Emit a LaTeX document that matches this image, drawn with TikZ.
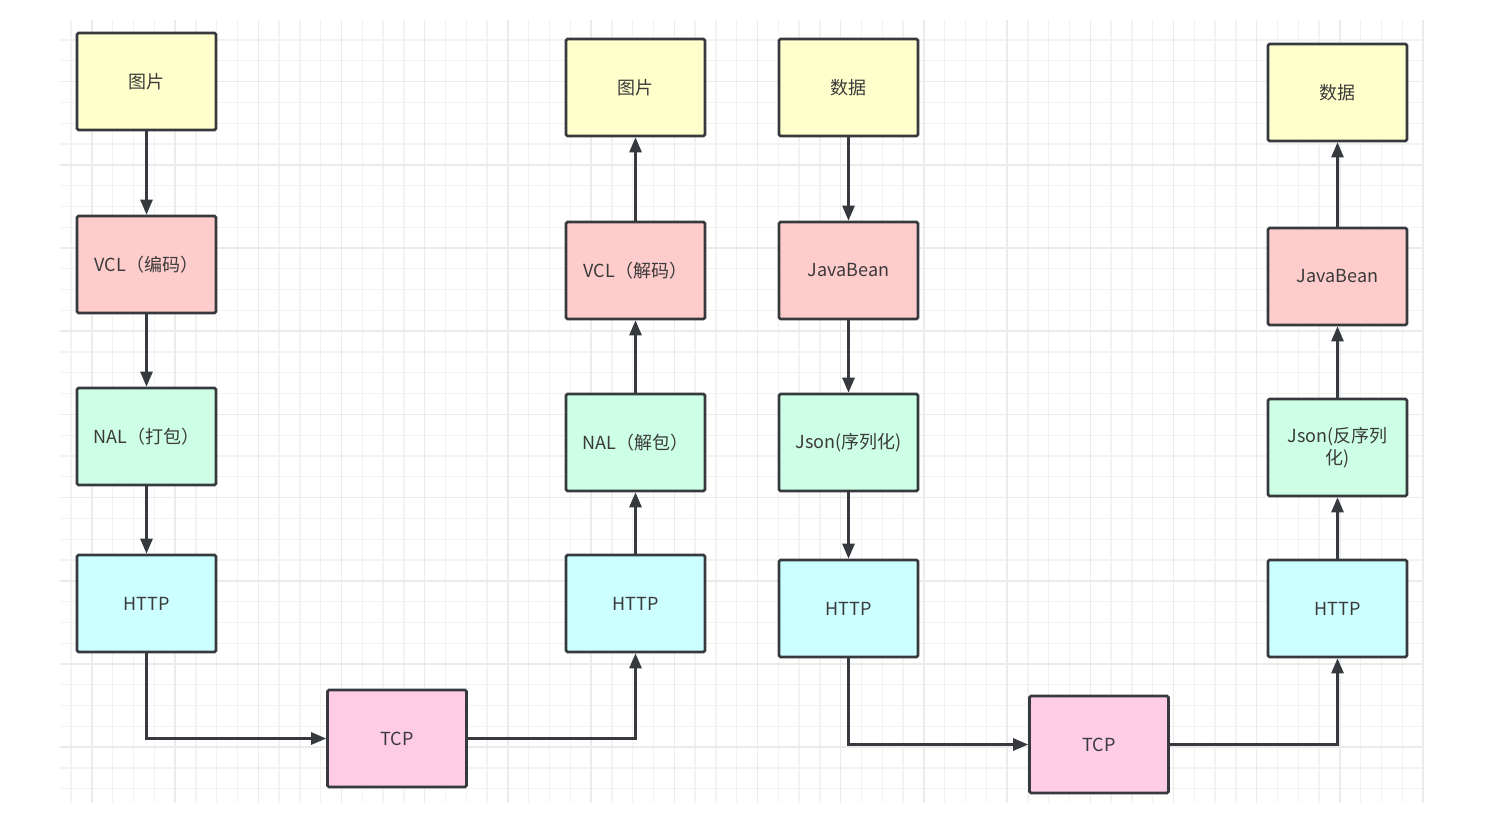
\documentclass[tikz,border=0pt]{standalone}
\usepackage{fontspec}
\setmainfont{Noto Sans CJK SC}
\usetikzlibrary{arrows.meta}
\definecolor{cyel}{HTML}{FFFFCC}
\definecolor{cred}{HTML}{FFCCCC}
\definecolor{cgrn}{HTML}{CCFFE6}
\definecolor{ccyn}{HTML}{CCFFFF}
\definecolor{cpnk}{HTML}{FFCCE6}
\definecolor{cline}{HTML}{36393D}
\definecolor{ctxt}{HTML}{3A3A3A}
\definecolor{gminor}{HTML}{F2F2F2}
\definecolor{gmajor}{HTML}{EBEBEB}
\tikzset{
  box/.style={draw=cline, line width=2.6pt, rounded corners=1.5pt, minimum width=139pt, minimum height=97pt,
    inner sep=2pt, font=\fontsize{18pt}{22pt}\selectfont, text=ctxt, align=center},
  yel/.style={box, fill=cyel},
  red/.style={box, fill=cred},
  grn/.style={box, fill=cgrn},
  cyn/.style={box, fill=ccyn},
  pnk/.style={box, fill=cpnk},
  conn/.style={draw=cline, line width=2.6pt, -{Triangle[length=15pt,width=12pt]}},
}
\begin{document}
\begin{tikzpicture}[x=1pt,y=-1pt]
\useasboundingbox (0,0) rectangle (1496,836);
\fill[white] (0,0) rectangle (1496,836);
% grid
\begin{scope}
\clip (60,20) rectangle (1424,802);
\foreach \k in {0,...,68} {
  \pgfmathsetmacro{\xx}{8.7+20.8*\k}
  \draw[gminor, line width=1.3pt] (\xx,0) -- (\xx,836);
}
\foreach \k in {0,...,40} {
  \pgfmathsetmacro{\yy}{-1.6+20.8*\k}
  \draw[gminor, line width=1.3pt] (0,\yy) -- (1496,\yy);
}
\foreach \k in {0,...,17} {
  \pgfmathsetmacro{\xx}{8.7+83.2*\k}
  \draw[gmajor, line width=1.5pt] (\xx,0) -- (\xx,836);
}
\foreach \k in {0,...,10} {
  \pgfmathsetmacro{\yy}{-1.6+83.2*\k}
  \draw[gmajor, line width=1.5pt] (0,\yy) -- (1496,\yy);
}
\end{scope}
% column 1
\node[yel] (a1) at (146.5,81.5) {图片};
\node[red] (a2) at (146.5,264.5) {VCL（编码）};
\node[grn] (a3) at (146.5,436.5) {NAL（打包）};
\node[cyn] (a4) at (146.5,603.5) {HTTP};
\node[pnk] (t1) at (397,738.5) {TCP};
% column 2
\node[yel] (b1) at (635.5,87.5) {图片};
\node[red] (b2) at (635.5,270.5) {VCL（解码）};
\node[grn] (b3) at (635.5,442.5) {NAL（解包）};
\node[cyn] (b4) at (635.5,603.5) {HTTP};
% column 3
\node[yel] (c1) at (848.5,87.5) {数据};
\node[red] (c2) at (848.5,270.5) {JavaBean};
\node[grn] (c3) at (848.5,442.5) {Json(序列化)};
\node[cyn] (c4) at (848.5,608.5) {HTTP};
\node[pnk] (t2) at (1099,744.5) {TCP};
% column 4
\node[yel] (d1) at (1337.5,92.5) {数据};
\node[red] (d2) at (1337.5,276.5) {JavaBean};
\node[grn] (d3) at (1337.5,447.5) {Json(反序列\\化)};
\node[cyn] (d4) at (1337.5,608.5) {HTTP};
% connectors
\draw[conn] (a1) -- (a2);
\draw[conn] (a2) -- (a3);
\draw[conn] (a3) -- (a4);
\draw[conn] (a4.south) |- (t1.west);
\draw[conn] (t1.east) -| (b4.south);
\draw[conn] (b4) -- (b3);
\draw[conn] (b3) -- (b2);
\draw[conn] (b2) -- (b1);
\draw[conn] (c1) -- (c2);
\draw[conn] (c2) -- (c3);
\draw[conn] (c3) -- (c4);
\draw[conn] (c4.south) |- (t2.west);
\draw[conn] (t2.east) -| (d4.south);
\draw[conn] (d4) -- (d3);
\draw[conn] (d3) -- (d2);
\draw[conn] (d2) -- (d1);
\end{tikzpicture}
\end{document}
